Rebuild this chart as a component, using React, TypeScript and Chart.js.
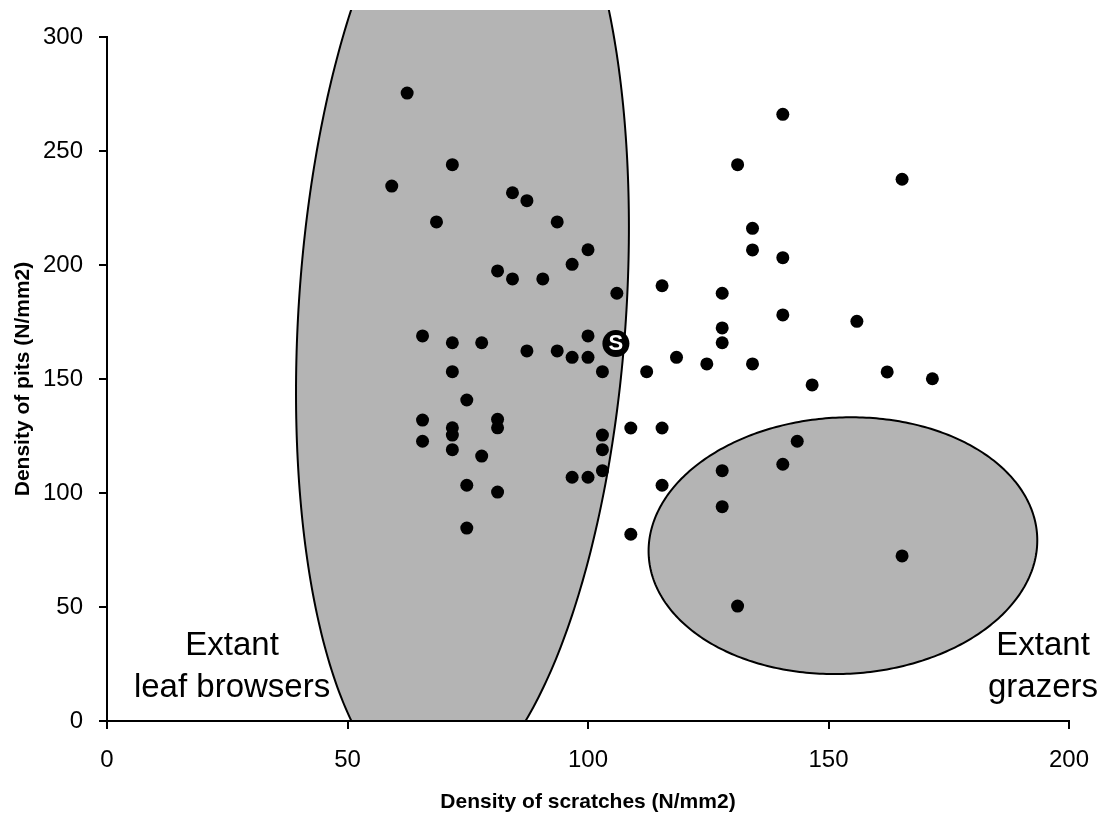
import React, { useEffect, useRef } from "react";
import { Chart, registerables } from "chart.js";

Chart.register(...registerables);

// Density of scratches (x) and density of pits (y) for each specimen
const scratches = [
  62.4, 59.2, 71.8, 68.5, 84.3, 87.3, 93.6, 81.2, 84.3, 90.6, 96.7, 100.0, 106.0,
  65.6, 71.8, 77.9, 87.3, 93.6, 100.0, 96.7, 100.0, 103.0, 112.2, 71.8, 74.8,
  65.6, 71.8, 71.8, 81.2, 81.2, 65.6, 71.8, 77.9, 74.8, 81.2, 74.8, 103.0, 103.0,
  103.0, 96.7, 100.0, 108.9, 108.9,
  140.5, 131.1, 165.3, 134.2, 134.2, 140.5, 115.4, 127.9, 140.5, 155.9, 127.9,
  127.9, 118.4, 124.7, 134.2, 162.2, 171.6, 146.6, 115.4, 143.5, 140.5, 127.9,
  115.4, 127.9, 165.3, 131.1,
];
const pits = [
  275.4, 234.6, 244.0, 218.9, 231.7, 228.2, 218.9, 197.4, 193.9, 193.9, 200.3, 206.7, 187.6,
  168.9, 165.9, 165.9, 162.3, 162.3, 168.9, 159.5, 159.5, 153.2, 153.2, 153.2, 140.8,
  132.0, 128.6, 125.4, 132.3, 128.6, 122.7, 119.0, 116.2, 103.4, 100.4, 84.6, 125.4, 119.0,
  109.8, 106.9, 106.9, 128.5, 81.9,
  266.1, 244.0, 237.6, 216.1, 206.6, 203.2, 190.9, 187.6, 178.1, 175.3, 172.4,
  165.9, 159.5, 156.6, 156.6, 153.1, 150.1, 147.4, 128.5, 122.7, 112.6, 109.8,
  103.4, 94.0, 72.4, 50.4,
];

// Specimen "S"
const specimenScratches = [105.8];
const specimenPits = [165.6];
const specimenLabel = "S";

// Axis ranges and ticks
const xTicks = [0, 50, 100, 150, 200];
const yTicks = [0, 50, 100, 150, 200, 250, 300];

const xTitle = "Density of scratches (N/mm2)";
const yTitle = "Density of pits (N/mm2)";

// Extant groups (ellipses in data units): centre, radii, skew terms
const groupNames = ["Extant\nleaf browsers", "Extant\ngrazers"];
const groupCx = [73.9, 153.0];
const groupCy = [180.3, 76.9];
const groupRx = [34.1, 40.4];
const groupRy = [212.7, 56.3];
const groupSkewX = [5.89, 0.62];
const groupSkewY = [0, 1.47];
// label anchor (data units): centre x, baseline of first line
const groupLabelX = [26.0, 194.6];
const groupLabelY = [28.9, 28.9];

const FONT = "'Liberation Sans', Arial, Helvetica, sans-serif";

const overlayPlugin = {
  id: "overlay",
  beforeDraw(chart: any) {
    const { ctx, chartArea } = chart;
    const xs = chart.scales.x;
    const ys = chart.scales.y;
    ctx.save();
    ctx.beginPath();
    ctx.rect(0, 2, chart.width, chartArea.bottom - 2);
    ctx.clip();
    for (let g = 0; g < groupCx.length; g++) {
      ctx.beginPath();
      for (let i = 0; i <= 360; i++) {
        const t = (i * Math.PI) / 180;
        const dx = groupCx[g] + groupRx[g] * Math.cos(t) + groupSkewX[g] * Math.sin(t);
        const dy = groupCy[g] + groupRy[g] * Math.sin(t) + groupSkewY[g] * Math.cos(t);
        const px = xs.getPixelForValue(dx);
        const py = ys.getPixelForValue(dy);
        if (i === 0) ctx.moveTo(px, py);
        else ctx.lineTo(px, py);
      }
      ctx.closePath();
      ctx.fillStyle = "#b4b4b4";
      ctx.fill();
      ctx.lineWidth = 2;
      ctx.strokeStyle = "#000";
      ctx.stroke();
    }
    ctx.restore();

    ctx.save();
    ctx.fillStyle = "#000";
    ctx.font = `33px ${FONT}`;
    ctx.textAlign = "center";
    ctx.textBaseline = "alphabetic";
    for (let g = 0; g < groupNames.length; g++) {
      const lines = groupNames[g].split("\n");
      const px = xs.getPixelForValue(groupLabelX[g]);
      const py = ys.getPixelForValue(groupLabelY[g]);
      lines.forEach((ln, i) => ctx.fillText(ln, px, py + i * 42));
    }
    ctx.restore();
  },
  afterDatasetsDraw(chart: any) {
    const { ctx } = chart;
    const meta = chart.getDatasetMeta(1);
    ctx.save();
    ctx.fillStyle = "#fff";
    ctx.font = `bold 22px ${FONT}`;
    ctx.textAlign = "center";
    ctx.textBaseline = "middle";
    meta.data.forEach((el: any) => {
      ctx.fillText(specimenLabel, el.x, el.y + 1);
    });
    ctx.restore();
  },
};

export default function App() {
  const ref = useRef<HTMLCanvasElement | null>(null);

  useEffect(() => {
    if (!ref.current) return;
    const chart = new Chart(ref.current, {
      type: "scatter",
      data: {
        datasets: [
          {
            label: "Specimens",
            data: scratches.map((x, i) => ({ x, y: pits[i] })),
            backgroundColor: "#000",
            borderWidth: 0,
            pointRadius: 6.5,
          },
          {
            label: "S",
            data: specimenScratches.map((x, i) => ({ x, y: specimenPits[i] })),
            backgroundColor: "#000",
            borderColor: "#000",
            borderWidth: 0,
            pointRadius: 13.5,
          },
        ],
      },
      options: {
        animation: false,
        responsive: false,
        devicePixelRatio: 1,
        layout: { padding: { top: 29, right: 32, left: 0, bottom: 0 } },
        plugins: {
          legend: { display: false },
          tooltip: { enabled: false },
        },
        scales: {
          x: {
            type: "linear",
            min: xTicks[0],
            max: xTicks[xTicks.length - 1],
            afterBuildTicks: (s: any) => {
              s.ticks = xTicks.map((v) => ({ value: v }));
            },
            ticks: {
              font: { family: FONT, size: 24 },
              color: "#000",
              padding: 17,
              maxRotation: 0,
            },
            grid: {
              drawOnChartArea: false,
              drawTicks: true,
              tickLength: 8,
              color: "#000",
              lineWidth: 2,
            },
            border: { display: true, color: "#000", width: 2 },
            title: {
              display: true,
              text: xTitle,
              color: "#000",
              font: { family: FONT, size: 21, weight: "bold" },
              padding: { top: 0, bottom: 3 },
            },
            afterFit: (s: any) => {
              s.height = 97;
              s.paddingLeft = 0;
              s.paddingRight = 0;
            },
          },
          y: {
            type: "linear",
            min: yTicks[0],
            max: yTicks[yTicks.length - 1],
            afterBuildTicks: (s: any) => {
              s.ticks = yTicks.map((v) => ({ value: v }));
            },
            ticks: {
              font: { family: FONT, size: 24 },
              color: "#000",
              padding: 16,
            },
            grid: {
              drawOnChartArea: false,
              drawTicks: true,
              tickLength: 8,
              color: "#000",
              lineWidth: 2,
            },
            border: { display: true, color: "#000", width: 2 },
            title: {
              display: true,
              text: yTitle,
              color: "#000",
              font: { family: FONT, size: 21, weight: "bold" },
              padding: { top: 3, bottom: 0 },
            },
            afterFit: (s: any) => {
              s.width = 99;
              s.paddingTop = 0;
              s.paddingBottom = 0;
            },
          },
        },
      },
      plugins: [overlayPlugin],
    });
    return () => chart.destroy();
  }, []);

  return (
    <div style={{ width: 1093, height: 810 }}>
      <canvas ref={ref} width={1093} height={810} style={{ display: "block" }} />
    </div>
  );
}
